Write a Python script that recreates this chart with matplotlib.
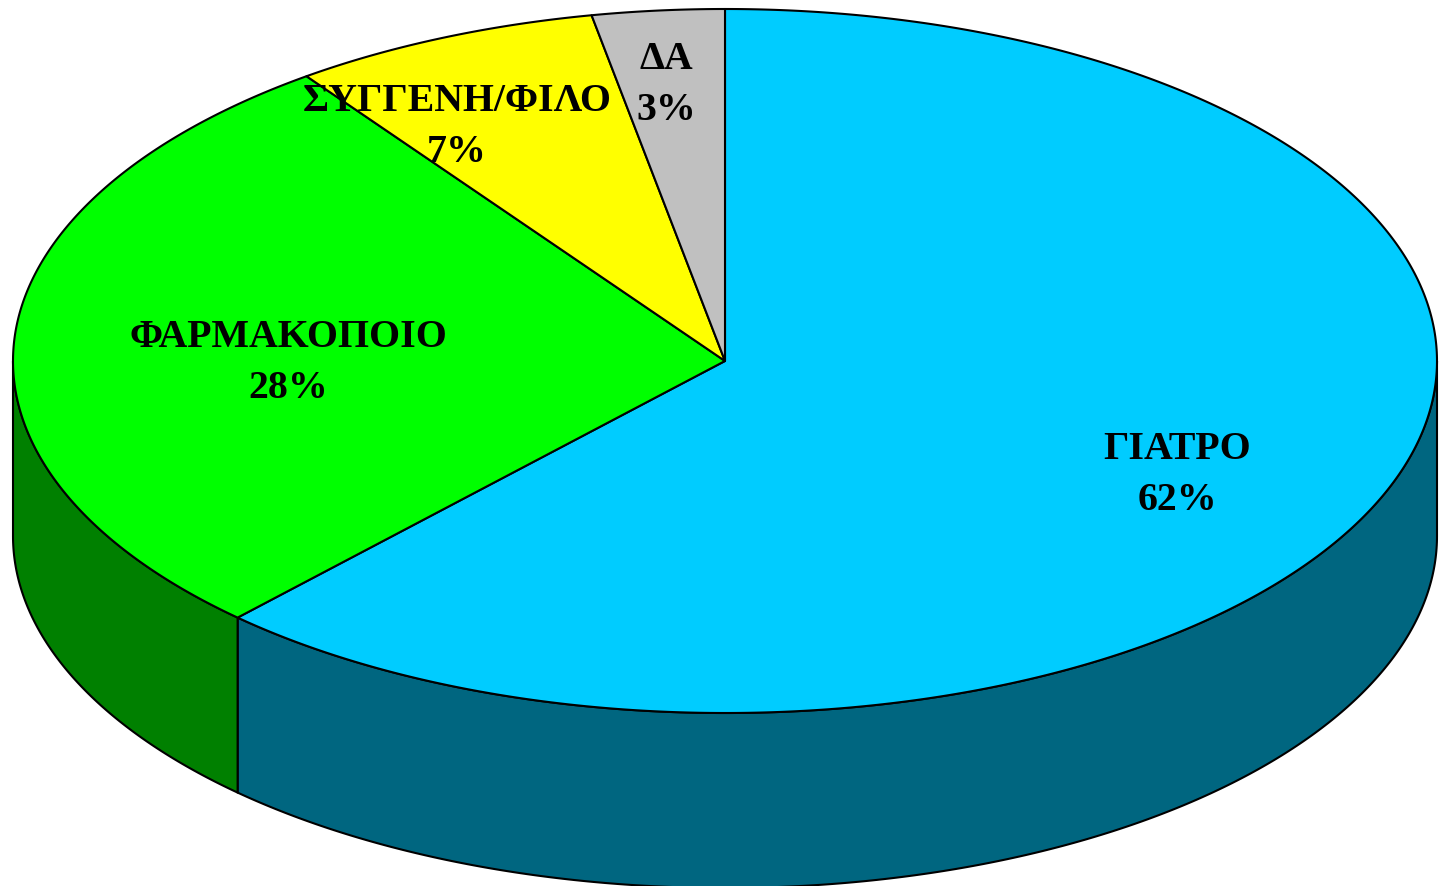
import numpy as np
import matplotlib
matplotlib.use("Agg")
import matplotlib.pyplot as plt
from matplotlib.patches import Polygon

categories = ["ΓΙΑΤΡΟ", "ΦΑΡΜΑΚΟΠΟΙΟ", "ΣΥΓΓΕΝΗ/ΦΙΛΟ", "ΔΑ"]
values = [62, 28, 7, 3]
top_colors = ["#00CCFF", "#00FF00", "#FFFF00", "#C0C0C0"]
side_colors = ["#006680", "#008000", "#808000", "#606060"]
label_xy = [(1177, 475), (288, 363), (457, 127), (666, 85)]

cx, cy, rx, ry, depth = 725, 362, 712, 352, 175

fig = plt.figure(figsize=(14.39, 8.87), dpi=100)
ax = fig.add_axes([0, 0, 1, 1])
ax.set_xlim(0, 1439)
ax.set_ylim(887, 0)
ax.axis("off")


def rim(t0, t1):
    t = np.radians(np.linspace(t0, t1, max(2, int(abs(t1 - t0) * 2) + 1)))
    return np.column_stack([cx + rx * np.sin(t), cy - ry * np.cos(t)])


edges = np.cumsum([0] + values) * 3.6
for i, col in enumerate(side_colors):
    # only the front half of the rim (90 to 270 degrees clockwise from the top) shows a wall
    a0, a1 = max(edges[i], 90), min(edges[i + 1], 270)
    if a1 > a0:
        upper = rim(a0, a1)
        lower = upper[::-1] + [0, depth]
        ax.add_patch(Polygon(np.vstack([upper, lower]), closed=True, fc=col,
                             ec="black", lw=1.5, joinstyle="round", zorder=2))

for i, col in enumerate(top_colors):
    arc = rim(edges[i], edges[i + 1])
    ax.add_patch(Polygon(np.vstack([[cx, cy], arc]), closed=True, fc=col,
                         ec="black", lw=1.5, joinstyle="round", zorder=3))

for name, v, (x, y) in zip(categories, values, label_xy):
    ax.text(x, y, f"{name}\n{v}%", ha="center", va="center", family="Liberation Serif",
            fontweight="bold", fontsize=28.7, linespacing=1.52, color="black", zorder=5)

fig.savefig("out.png", dpi=100, facecolor="white")
